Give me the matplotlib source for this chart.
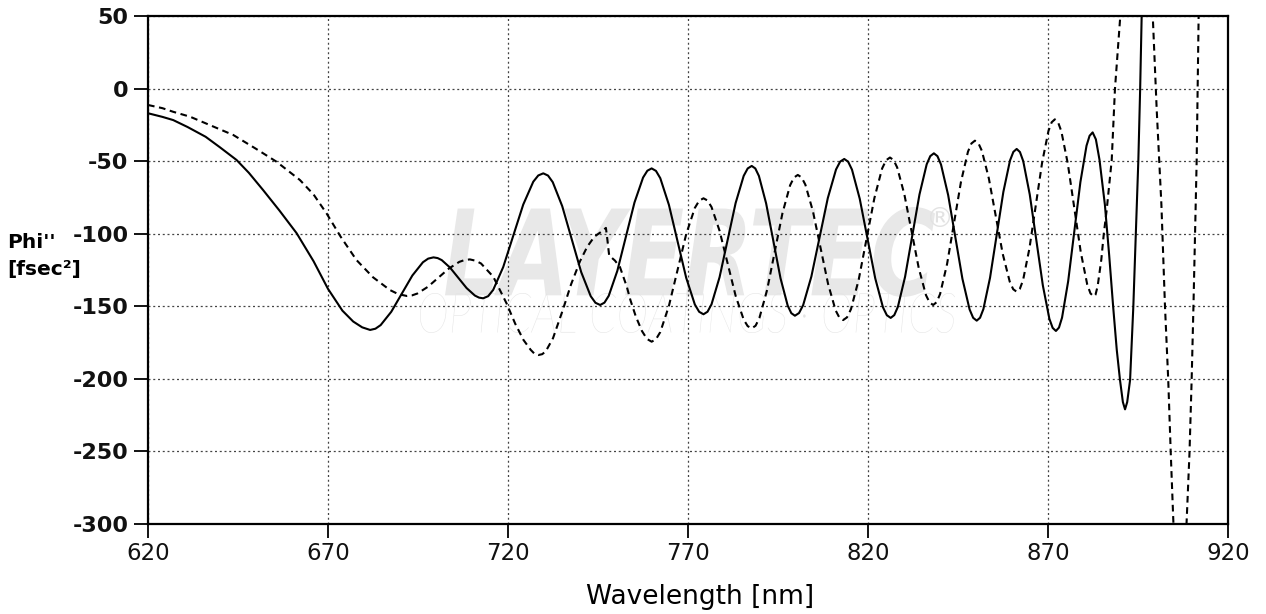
import matplotlib
matplotlib.use("Agg")
import matplotlib.pyplot as plt
from matplotlib.textpath import TextPath
from matplotlib.patches import PathPatch
from matplotlib.font_manager import FontProperties
from matplotlib.transforms import Affine2D

# ---------------- data ----------------
solid_nm = [620, 624, 627, 631, 636, 640, 644.6, 648, 652, 656.5, 661.3, 666, 670, 674, 677, 679.5, 681.7,
            684.63, 687.57, 690.5, 693.43, 696.37, 699.3,
            701.6, 703.9, 706.2, 708.5, 710.8, 713.1,
            715.88, 718.67, 721.45, 724.23, 727.02, 729.8,
            732.43, 735.07, 737.7, 740.33, 742.97, 745.6,
            747.98, 750.37, 752.75, 755.13, 757.52, 759.9,
            762.3, 764.7, 767.1, 769.5, 771.9, 774.3,
            776.53, 778.77, 781.0, 783.23, 785.47, 787.7,
            789.7, 791.7, 793.7, 795.7, 797.7, 799.7,
            801.98, 804.27, 806.55, 808.83, 811.12, 813.4,
            815.55, 817.7, 819.85, 822.0, 824.15, 826.3,
            828.3, 830.3, 832.3, 834.3, 836.3, 838.3,
            840.28, 842.27, 844.25, 846.23, 848.22, 850.2,
            852.05, 853.9, 855.75, 857.6, 859.45, 861.3,
            863.12, 864.93, 866.75, 868.57, 870.38, 872.2,
            873.9, 875.6, 877.3, 879.0, 880.7, 882.4,
            883.3, 884.3, 885.8, 887.0, 888.1, 889.1, 890.0, 890.8, 891.4, 892.0, 892.8, 893.7,
            894.4, 895.1, 895.6, 896.0, 896.4]
solid_val = [-17, -19.5, -21.7, -26.5, -33.2, -40.5, -49.2, -58, -70, -84, -99.7, -119, -138, -153, -160.5, -164.5, -166.3,
             -162.95, -153.8, -141.3, -128.8, -119.65, -116.3,
             -118.19, -123.35, -130.4, -137.45, -142.61, -144.5,
             -138.73, -122.98, -101.45, -79.93, -64.17, -58.4,
             -64.48, -81.08, -103.75, -126.43, -143.02, -149.1,
             -142.8, -125.58, -102.05, -78.53, -61.3, -55,
             -61.73, -80.13, -105.25, -130.38, -148.77, -155.5,
             -148.65, -129.95, -104.4, -78.85, -60.15, -53.3,
             -60.21, -79.1, -104.9, -130.7, -149.59, -156.5,
             -149.26, -129.5, -102.5, -75.5, -55.74, -48.5,
             -55.84, -75.88, -103.25, -130.63, -150.66, -158,
             -150.4, -129.65, -101.3, -72.95, -52.2, -44.6,
             -52.33, -73.43, -102.25, -131.08, -152.17, -159.9,
             -151.97, -130.33, -100.75, -71.18, -49.53, -41.6,
             -50.0, -72.95, -104.3, -135.65, -158.6, -167,
             -157.83, -132.8, -98.6, -64.4, -39.37, -30.2,
             -35, -49, -80, -115, -150.3, -180, -200.8, -216, -221, -216, -200.8, -150.3,
             -99.7, -49, 0, 50, 90]
# extra readings close to each turning point of the solid curve
solid_peak_nm = [683.17, 697.83, 700.45, 711.95, 714.49, 728.41, 731.12, 744.28, 746.79, 758.71, 761.1,
                 773.1, 775.42, 786.58, 788.7, 798.7, 800.84, 812.26, 814.48, 825.23, 827.3, 837.3, 839.29,
                 849.21, 851.13, 860.38, 862.21, 871.29, 873.05, 881.55]
solid_peak_val = [-165.45, -117.15, -116.78, -144.02, -143.04, -59.86, -59.94, -147.56, -147.5, -56.6, -56.71,
                  -153.79, -153.76, -55.04, -55.05, -154.75, -154.66, -50.34, -50.36, -156.14, -156.07, -46.53, -46.56,
                  -157.94, -157.89, -43.61, -43.73, -164.87, -164.67, -32.53]

dashed_nm = [620, 624, 627, 631.7, 637, 643.7, 650, 655.7, 662.2, 666, 669.6, 673.5, 677.9, 682.5, 687.2, 691.9,
             694.82, 697.73, 700.65, 703.57, 706.48, 709.4,
             712.5, 715.9, 719.6, 722.0, 724.3, 726.3, 728.4,
             730.5, 732.5, 735.3, 737.5, 740.0, 742.0, 744.0, 746.0, 747.2, 747.6, 748.1, 749.7, 751.1,
             753.0, 754.0, 755.5, 757.2, 758.6, 759.9,
             762.3, 764.7, 767.1, 769.5, 771.9, 774.3,
             776.53, 778.77, 781.0, 783.23, 785.47, 787.7,
             789.83, 791.97, 794.1, 796.23, 798.37, 800.5,
             802.6, 804.7, 806.8, 808.9, 811.0, 813.1,
             815.27, 817.43, 819.6, 821.77, 823.93, 826.1,
             828.1, 830.1, 832.1, 834.1, 836.1, 838.1,
             840.03, 841.97, 843.9, 845.83, 847.77, 849.7,
             851.63, 853.57, 855.5, 857.43, 859.37, 861.3,
             863.07, 864.83, 866.6, 868.37, 870.13, 871.9,
             873.7, 875.5, 877.3, 879.1, 880.9, 882.7,
             883.8, 884.8, 885.5, 886.3, 887.7, 888.6, 890.0, 890.5, 894.5,
             898.7, 899.1, 900.2, 900.9, 901.5, 902.5, 903.4, 904.1, 904.8, 905.5, 906.6,
             907.8, 908.5, 909.3, 909.9, 910.4, 911.0, 911.3, 911.8, 912.0]
dashed_val = [-11.3, -13.5, -16, -19.4, -25, -32, -41.5, -50.4, -63, -73, -86, -102, -118.1, -130, -138.8, -142.9,
              -141.21, -136.6, -130.3, -124.0, -119.39, -117.7,
              -120.5, -129.6, -148, -162, -173.2, -180, -183.6,
              -181, -172, -152, -135, -119, -109, -102, -98.5, -96, -104, -115, -118.5, -123,
              -136.5, -145.7, -157, -167, -172.5, -174.4,
              -167.78, -149.7, -125.0, -100.3, -82.22, -75.6,
              -81.6, -98.0, -120.4, -142.8, -159.2, -165.2,
              -158.12, -138.78, -112.35, -85.93, -66.58, -59.5,
              -66.2, -84.5, -109.5, -134.5, -152.8, -159.5,
              -151.99, -131.5, -103.5, -75.5, -55.0, -47.5,
              -54.31, -72.9, -98.3, -123.7, -142.29, -149.1,
              -141.52, -120.8, -92.5, -64.2, -43.48, -35.9,
              -42.87, -61.93, -87.95, -113.98, -133.03, -140,
              -132.04, -110.3, -80.6, -50.9, -29.16, -21.2,
              -29.37, -51.7, -82.2, -112.7, -135.03, -143.2,
              -136, -118, -100, -83.7, -49.2, -0.3, 47.2, 75, 400,
              75, 50, -14.8, -49.2, -80, -150.3, -200.8, -251.3, -297, -340, -420,
              -340, -298, -251.3, -200.8, -150.3, -81.4, -49.2, 47, 75]
# extra readings close to each turning point of the dashed curve
dashed_peak_nm = [689.5, 693.36, 707.94, 711.0, 727.4, 729.5, 761.1, 773.1, 775.42, 786.58, 788.77,
                  799.43, 801.55, 812.05, 814.18, 825.02, 827.1, 837.1, 839.07, 848.73, 850.67,
                  860.33, 862.18, 871.02, 872.8, 881.8, 883.2]
dashed_peak_val = [-141.6, -142.47, -118.13, -118.6, -182.8, -183.0, -172.72, -77.28, -77.12, -163.68, -163.4,
                   -61.3, -61.2, -157.8, -157.6, -49.4, -49.23, -147.37, -147.18, -37.82, -37.67,
                   -138.23, -137.98, -23.22, -23.27, -141.13, -142.0]

x_ticks = [620, 670, 720, 770, 820, 870, 920]
y_ticks = [50, 0, -50, -100, -150, -200, -250, -300]
x_label = "Wavelength [nm]"
y_label_1 = "Phi''"
y_label_2 = "[fsec²]"
wm_main = "LAYERTEC"
wm_sub = "OPTICAL COATINGS · OPTICS"

# merge readings in wavelength order
solid_pts = sorted(zip(solid_nm + solid_peak_nm, solid_val + solid_peak_val))
dashed_pts = sorted(zip(dashed_nm + dashed_peak_nm, dashed_val + dashed_peak_val))
sx_, sy_ = [p[0] for p in solid_pts], [p[1] for p in solid_pts]
dx_, dy_ = [p[0] for p in dashed_pts], [p[1] for p in dashed_pts]

# ---------------- figure ----------------
W, H = 1266, 614
fig = plt.figure(figsize=(W / 100, H / 100), dpi=100)
fig.patch.set_facecolor("white")
ax = fig.add_axes([148 / W, 1 - 524 / H, 1080 / W, 508 / H])
ax.set_facecolor("white")


def place_text(s, box, prop, color, z):
    tp = TextPath((0, 0), s, size=100, prop=prop)
    bb = tp.get_extents()
    x0, ytop, x1, ybot = box
    kx = (x1 - x0) / bb.width
    ky = (ybot - ytop) / bb.height
    tr = Affine2D().translate(-bb.x0, -bb.y0).scale(kx, ky).translate(x0, H - ybot)
    p = PathPatch(tp, transform=tr, facecolor=color, edgecolor="none", zorder=z)
    ax.add_patch(p)


place_text(wm_main, (445, 207, 935, 297),
           FontProperties(family="DejaVu Sans", weight="bold", style="italic"), "#e8e8e8", 0.2)
place_text("®", (930, 207, 950, 227),
           FontProperties(family="DejaVu Sans"), "#e2e2e2", 0.2)
place_text(wm_sub, (420, 293, 955, 333),
           FontProperties(family="Lato", weight="light", style="italic"), "#e4e4e4", 0.2)

ax.plot(sx_, sy_, color="black", lw=1.5, solid_joinstyle="round", zorder=3)
ax.plot(dx_, dy_, color="black", lw=1.5, linestyle=(0, (3.2, 2.2)), zorder=3)

ax.set_xlim(620, 920)
ax.set_ylim(-300, 50)
ax.set_xticks(x_ticks)
ax.set_yticks(y_ticks)
ax.set_xticklabels([str(v) for v in x_ticks], fontsize=16.5, family="DejaVu Sans", color="#111111")
ax.set_yticklabels([str(v) for v in y_ticks], fontsize=16, family="DejaVu Sans", fontweight="bold",
                   color="#111111")
ax.tick_params(axis="both", direction="out", length=10, width=1.3, color="black")
ax.tick_params(axis="y", pad=4)
ax.tick_params(axis="x", pad=3)

ax.set_axisbelow(True)
ax.grid(True, linestyle=(0, (1.6, 2.2)), color="#444444", lw=0.9)

for sp in ax.spines.values():
    sp.set_linewidth(1.6)
    sp.set_color("black")

fig.text(7 / W, 1 - 243 / H, y_label_1, ha="left", va="center", fontsize=14.5, fontweight="bold",
         family="DejaVu Sans")
fig.text(7 / W, 1 - 269 / H, y_label_2, ha="left", va="center", fontsize=14.5, fontweight="bold",
         family="DejaVu Sans")
fig.text(700 / W, 1 - 597 / H, x_label, ha="center", va="center", fontsize=19, family="DejaVu Sans")

fig.savefig("out.png", dpi=100, facecolor="white")
